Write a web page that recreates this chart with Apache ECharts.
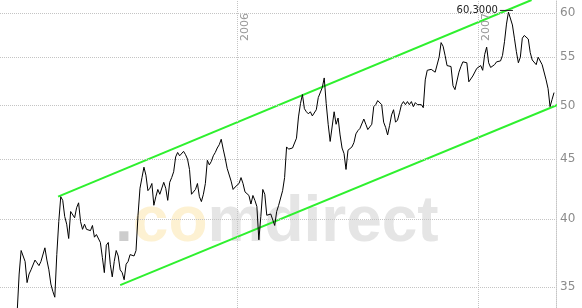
<!DOCTYPE html>
<html><head><meta charset="utf-8">
<script src="https://cdn.jsdelivr.net/npm/echarts@6/dist/echarts.min.js"></script>
<style>html,body{margin:0;padding:0;background:#fff}#c{width:582px;height:308px}</style>
</head><body><div id="c"></div>
<script>
// ---- data ----
const startDate = [2005, 1, 1];   // 2005-02-01 (year, monthIndex, day)
const stepDays = 3;
const prices = [
33.3,35.9,37.6,37.7,36.8,35.3,35.9,36.2,36.2,36.9,36.7,36.5,36.8,36.7,37.8,36.9,36.2,35.2,34.7,34.3,
37.3,39.8,41.8,41.5,40.2,39.6,38.5,40.6,40.5,40.1,40.9,41.3,39.8,39.2,39.6,39.2,39.3,39.1,39.5,38.6,
38.8,38.8,38.2,37.1,36.0,38.0,38.2,36.6,35.7,36.8,37.6,37.2,36.2,36.0,35.5,36.6,36.8,37.3,37.3,37.2,
37.6,40.3,42.5,43.4,44.3,43.6,42.3,42.5,42.9,41.1,41.8,42.4,42.0,42.0,43.0,42.5,41.5,43.0,43.4,43.9,
45.2,45.6,45.3,45.2,45.7,45.4,45.0,44.1,42.0,42.0,42.4,42.9,41.8,41.4,42.0,42.9,44.9,44.5,44.8,45.3,
45.6,46.0,46.3,46.8,45.9,45.1,44.2,44.2,43.1,42.4,42.6,42.6,42.9,43.4,42.9,42.2,42.1,41.9,41.2,41.9,
41.5,41.0,38.4,40.2,42.4,42.0,40.3,40.4,40.4,40.5,39.5,40.6,41.1,41.1,42.3,43.4,46.1,45.9,46.0,46.0,
46.0,46.9,48.9,50.2,51.1,49.7,49.4,49.2,49.4,49.0,49.1,49.6,50.8,50.9,51.8,52.8,50.2,48.2,46.6,46.7,
49.4,48.2,48.8,47.2,46.0,45.5,44.1,45.8,45.8,46.1,46.5,47.3,47.6,47.8,47.9,48.7,48.2,47.7,47.8,48.2,
49.9,50.1,50.5,50.4,50.1,48.4,47.9,47.2,48.1,49.1,49.6,48.4,48.6,49.3,50.1,50.4,50.1,50.4,50.1,50.4,
49.9,50.3,50.1,50.1,50.1,49.8,52.6,53.6,53.4,53.7,53.8,53.4,53.6,55.0,56.6,56.2,55.2,54.1,54.2,54.0,
52.0,51.6,51.7,53.4,54.0,54.5,54.6,54.4,52.4,52.3,53.0,53.0,53.8,53.8,54.1,53.6,55.3,56.1,54.4,53.9,
53.9,54.2,54.5,54.5,54.6,55.2,56.7,58.7,60.1,60.30,58.6,57.1,55.6,54.4,55.0,57.1,57.4,57.3,57.0,55.5,
54.7,54.5,54.2,55.0,54.9,54.2,54.0,52.6,51.7,49.9,50.6,51.3
];
const yTicks = [35, 40, 45, 50, 55, 60];
const yearDates = ['2006-01-01', '2007-01-01'];
const yearLabels = ['2006', '2007'];
const upperChannel = [['2005-04-04', 41.8], ['2007-03-22', 61.55]];
const lowerChannel = [['2005-07-07', 35.13], ['2007-06-06', 51.06]];
const xRange = ['2005-01-06', '2007-04-28'];
const yRange = [33.58, 61.55];

// ---- build ----
const t0 = new Date(startDate[0], startDate[1], startDate[2]).getTime();
const priceData = prices.map((v, i) => [t0 + i * stepDays * 86400000, v]);

const gridLineStyle = { type: 'dotted', color: '#c4c4c4', width: 1 };
const markLineData = yTicks.map(v => ({ yAxis: v, label: { show: false } }))
  .concat(yearDates.map((d, k) => ({
    xAxis: d,
    label: {
      show: true, formatter: yearLabels[k], position: 'insideEndBottom',
      color: '#999', fontSize: 11, fontFamily: 'DejaVu Sans', distance: [13, 2]
    }
  })));

const wmFont = 'bold 64px "Liberation Sans"';
const chart = echarts.init(document.getElementById('c'), null, { renderer: 'canvas' });
chart.setOption({
  animation: false,
  backgroundColor: '#fff',
  grid: { left: 0, right: 26, top: 0, bottom: 0, containLabel: false },
  graphic: [{
    type: 'text', left: 115, top: 191, z: 0, silent: true,
    style: {
      text: '{g|.}{y|co}{h|mdirect}',
      font: wmFont,
      rich: {
        g: { fill: '#cdcdcd', font: wmFont },
        y: { fill: '#fdf1d2', font: wmFont },
        h: { fill: '#e5e5e5', font: wmFont }
      }
    }
  }],
  xAxis: {
    type: 'time', min: xRange[0], max: xRange[1],
    axisLine: { show: false }, axisTick: { show: false }, axisLabel: { show: false },
    splitLine: { show: false }
  },
  yAxis: {
    type: 'log', logBase: 10, min: yRange[0], max: yRange[1], position: 'right',
    axisLine: { show: true, lineStyle: gridLineStyle },
    axisTick: { show: false },
    splitLine: { show: false },
    axisLabel: {
      customValues: yTicks, color: '#8c8c8c', fontSize: 12, margin: 4,
      fontFamily: 'DejaVu Sans'
    }
  },
  series: [
    {
      type: 'line', data: priceData, showSymbol: false, symbol: 'none', z: 5,
      lineStyle: { color: '#000', width: 1 },
      markLine: {
        silent: true, symbol: 'none', animation: false,
        lineStyle: gridLineStyle,
        data: markLineData
      },
      markPoint: {
        symbol: 'rect', symbolSize: [13, 1], symbolOffset: [-4, 0],
        itemStyle: { color: '#222' },
        label: {
          show: true, position: 'left', distance: 2, color: '#222', fontSize: 10,
          fontFamily: 'DejaVu Sans',
          formatter: p => p.value.toFixed(4).replace('.', ',')
        },
        data: [{ type: 'max' }]
      }
    },
    {
      type: 'line', data: upperChannel, clip: false, symbol: 'none', z: 4,
      lineStyle: { color: '#2ef02e', width: 2 }
    },
    {
      type: 'line', data: lowerChannel, clip: false, symbol: 'none', z: 4,
      lineStyle: { color: '#2ef02e', width: 2 }
    }
  ]
});
</script>
</body></html>
